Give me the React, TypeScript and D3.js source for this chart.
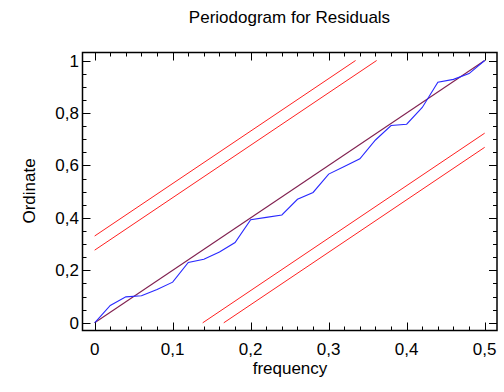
import React from "react";
import * as d3 from "d3";

const freqs = [0, 0.02, 0.04, 0.06, 0.08, 0.1, 0.12, 0.14, 0.16, 0.18, 0.2, 0.22, 0.24, 0.26, 0.28, 0.3, 0.32, 0.34, 0.36, 0.38, 0.4, 0.42, 0.44, 0.46, 0.48, 0.5];
const cumPeriodogram = [0, 0.066, 0.099, 0.103, 0.127, 0.155, 0.23, 0.242, 0.27, 0.306, 0.393, 0.402, 0.411, 0.471, 0.497, 0.567, 0.596, 0.625, 0.697, 0.752, 0.757, 0.821, 0.917, 0.928, 0.95, 1.0];
const boundOffsets = [0.331, 0.277];
const xTicks = [0, 0.1, 0.2, 0.3, 0.4, 0.5];
const yTicks = [0, 0.2, 0.4, 0.6, 0.8, 1];

const W = 504, H = 392;
const L = 82.5, R = 497, T = 52.5, B = 330.5;
const font = "'Liberation Sans', Arial, sans-serif";
const FS = 17;

export default function App() {
  const x = d3.scaleLinear().domain([-0.0156, 0.5158]).range([L, R]);
  const y = d3.scaleLinear().domain([-0.0293, 1.0305]).range([B, T]);
  const line = d3.line<[number, number]>().x(d => x(d[0])).y(d => y(d[1]));
  const fmt = (v: number) => String(v).replace(".", ",");

  const xMinor = d3.range(0, 0.5001, 0.02);
  const yMinor = d3.range(0, 1.0001, 0.05);
  const isMajorX = (v: number) => Math.abs(v * 10 - Math.round(v * 10)) < 1e-6;
  const isMajorY = (v: number) => Math.abs(v * 5 - Math.round(v * 5)) < 1e-6;

  const bounds: [number, number][][] = [];
  boundOffsets.forEach(c => {
    bounds.push([[0, c], [(1 - c) / 2, 1]]);
    bounds.push([[c / 2, 0], [0.5, 1 - c]]);
  });

  return (
    <svg width={W} height={H} style={{ position: "absolute", left: 0, top: 0 }}>
      <rect width={W} height={H} fill="#fff" />
      <text x={289.5} y={23} textAnchor="middle" fontFamily={font} fontSize={FS} fill="#000">Periodogram for Residuals</text>
      {bounds.map((b, i) => (
        <path key={i} d={line(b) || ""} fill="none" stroke="#ff2020" strokeWidth={1} />
      ))}
      <path d={line([[0, 0], [0.5, 1]]) || ""} fill="none" stroke="#802050" strokeWidth={1.1} />
      <path d={line(freqs.map((f, i) => [f, cumPeriodogram[i]] as [number, number])) || ""} fill="none" stroke="#2828ff" strokeWidth={1.1} />
      <rect x={L} y={T} width={R - L} height={B - T} fill="none" stroke="#000" strokeWidth={1.5} />
      {xMinor.map((v, i) => {
        const len = isMajorX(v) ? 8 : 4;
        const px = Math.round(x(v)) + 0.5;
        return (
          <g key={"x" + i}>
            <line x1={px} x2={px} y1={B} y2={B - len} stroke="#000" />
            <line x1={px} x2={px} y1={T} y2={T + len} stroke="#000" />
          </g>
        );
      })}
      {yMinor.map((v, i) => {
        const len = isMajorY(v) ? 8 : 4;
        const py = Math.round(y(v)) + 0.5;
        return (
          <g key={"y" + i}>
            <line x1={L} x2={L + len} y1={py} y2={py} stroke="#000" />
            <line x1={R} x2={R - len} y1={py} y2={py} stroke="#000" />
          </g>
        );
      })}
      {xTicks.map((v, i) => (
        <text key={"xl" + i} x={x(v)} y={354.5} textAnchor="middle" fontFamily={font} fontSize={FS} fill="#000">{fmt(v)}</text>
      ))}
      {yTicks.map((v, i) => (
        <text key={"yl" + i} x={79} y={y(v) + 6} textAnchor="end" fontFamily={font} fontSize={FS} fill="#000">{fmt(v)}</text>
      ))}
      <text x={290} y={373.5} textAnchor="middle" fontFamily={font} fontSize={FS} fill="#000">frequency</text>
      <text transform={`translate(35,191) rotate(-90)`} textAnchor="middle" fontFamily={font} fontSize={FS} fill="#000">Ordinate</text>
    </svg>
  );
}
